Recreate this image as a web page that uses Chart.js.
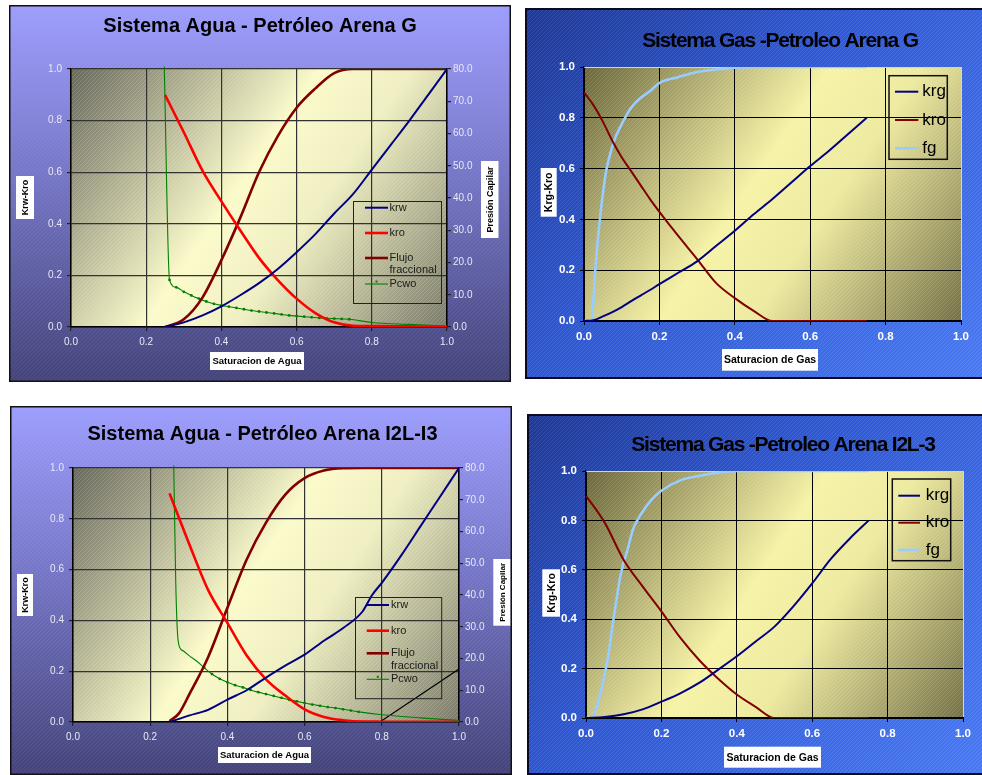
<!DOCTYPE html>
<html lang="es">
<head>
<meta charset="utf-8">
<title>Permeabilidades relativas - Arenas G e I2L-I3</title>
<script src="https://cdn.jsdelivr.net/npm/chart.js@4.4.1/dist/chart.umd.min.js"></script>
<style>
  html, body { margin: 0; padding: 0; background: #ffffff; }
  body { position: relative; width: 982px; height: 775px; overflow: hidden; }
  .panel { position: absolute; }
  .panel canvas { display: block; }
</style>
</head>
<body>
<div class="panel" style="left:9px;top:5px"><canvas id="aguaG" width="502" height="377"></canvas></div>
<div class="panel" style="left:525px;top:8px"><canvas id="gasG" width="460" height="371"></canvas></div>
<div class="panel" style="left:10px;top:406px"><canvas id="aguaI" width="502" height="369"></canvas></div>
<div class="panel" style="left:527px;top:414px"><canvas id="gasI" width="458" height="361"></canvas></div>
<script>
const FONT = "'Liberation Sans', Arial, Helvetica, sans-serif";

// Tick values and labels
const SAT_TICKS = [0, 0.2, 0.4, 0.6, 0.8, 1.0];
const SAT_LABELS = ['0.0', '0.2', '0.4', '0.6', '0.8', '1.0'];
const PC_TICKS = [0, 10, 20, 30, 40, 50, 60, 70, 80];
const PC_LABELS = ['0.0', '10.0', '20.0', '30.0', '40.0', '50.0', '60.0', '70.0', '80.0'];

// ---- Arena G, sistema agua-petróleo ----
const swG  = [0.25, 0.30, 0.35, 0.40, 0.45, 0.50, 0.55, 0.60, 0.65, 0.70, 0.75, 0.80, 0.85, 0.90, 0.95, 1.00];
const krwG = [0.000, 0.018, 0.045, 0.080, 0.123, 0.170, 0.225, 0.290, 0.360, 0.440, 0.515, 0.610, 0.705, 0.800, 0.900, 1.000];
const kroG = [0.900, 0.755, 0.605, 0.487, 0.375, 0.268, 0.182, 0.110, 0.054, 0.018, 0.005, 0.004, 0.003, 0.003, 0.002, 0.000];
const fwG  = [0.000, 0.030, 0.115, 0.259, 0.423, 0.600, 0.740, 0.850, 0.925, 0.984, 1.000, 1.000, 1.000, 1.000, 1.000, 1.000];
const pcSwG = [0.248, 0.262, 0.28, 0.30, 0.32, 0.34, 0.36, 0.38, 0.40, 0.42, 0.44, 0.46, 0.48, 0.50, 0.52, 0.54,
               0.56, 0.58, 0.60, 0.62, 0.64, 0.66, 0.68, 0.70, 0.72, 0.74, 0.80, 0.90, 1.00];
const pcG   = [80.8, 14.6, 12.3, 10.9, 9.8, 8.8, 7.9, 7.2, 6.7, 6.3, 5.9, 5.5, 5.1, 4.8, 4.5, 4.2,
               3.9, 3.6, 3.4, 3.2, 3.0, 2.8, 2.7, 2.6, 2.5, 2.4, 1.4, 0.8, 0.3];

// ---- Arena G, sistema gas-petróleo ----
const sgG   = [0, 0.025, 0.05, 0.075, 0.10, 0.125, 0.15, 0.175, 0.20, 0.25, 0.30, 0.35, 0.40, 0.45, 0.50, 0.55, 0.60, 0.65, 0.70, 0.75];
const krgG  = [0, 0.003, 0.018, 0.035, 0.055, 0.078, 0.100, 0.122, 0.145, 0.190, 0.235, 0.295, 0.355, 0.420, 0.480, 0.545, 0.610, 0.670, 0.735, 0.800];
const kroGG = [0.90, 0.85, 0.785, 0.71, 0.645, 0.59, 0.535, 0.48, 0.43, 0.335, 0.244, 0.15, 0.09, 0.04, 0, 0, 0, 0, 0, 0];
const fgSwG = [0, 0.02, 0.025, 0.03, 0.04, 0.05, 0.06, 0.07, 0.08, 0.10, 0.125, 0.15, 0.175, 0.20, 0.25, 0.30, 0.35, 0.40, 0.50, 0.60, 0.75];
const fgG   = [0, 0, 0.08, 0.20, 0.37, 0.50, 0.60, 0.66, 0.71, 0.775, 0.84, 0.878, 0.905, 0.937, 0.96, 0.98, 0.99, 0.997, 1, 1, 1];

// ---- Arena I2L-I3, sistema agua-petróleo ----
const swI  = [0.25, 0.30, 0.35, 0.40, 0.45, 0.50, 0.55, 0.60, 0.65, 0.70, 0.75, 0.775, 0.80, 0.85, 0.90, 0.95, 1.00];
const krwI = [0, 0.025, 0.048, 0.088, 0.125, 0.175, 0.222, 0.265, 0.320, 0.370, 0.435, 0.500, 0.548, 0.655, 0.770, 0.885, 1.000];
const kroI = [0.90, 0.705, 0.52, 0.39, 0.262, 0.168, 0.104, 0.05, 0.02, 0.007, 0.002, 0.002, 0.001, 0.001, 0.001, 0.001, 0];
const fwSwI = [0.25, 0.275, 0.30, 0.35, 0.40, 0.45, 0.50, 0.55, 0.60, 0.65, 0.70, 0.75, 1.00];
const fwI   = [0.003, 0.035, 0.105, 0.255, 0.45, 0.64, 0.785, 0.895, 0.96, 0.99, 0.999, 1, 1];
const pcSwI = [0.261, 0.266, 0.270, 0.274, 0.287, 0.30, 0.32, 0.34, 0.36, 0.38, 0.40, 0.42, 0.44, 0.46, 0.48, 0.50,
               0.52, 0.54, 0.56, 0.58, 0.60, 0.62, 0.64, 0.66, 0.68, 0.70, 0.72, 0.74, 0.80, 0.90, 1.00];
const pcI   = [80.8, 45, 29.5, 24.4, 22.3, 21.0, 19.2, 17.1, 15.1, 13.6, 12.5, 11.6, 10.9, 10.1, 9.4, 8.8,
               8.2, 7.6, 7.0, 6.5, 6.0, 5.5, 5.1, 4.7, 4.4, 4.0, 3.6, 3.2, 2.3, 1.3, 0.5];
const trazoSwI = [0.795, 1.0];
const trazoI   = [0, 0.209];

// ---- Arena I2L-3, sistema gas-petróleo ----
const sgI   = [0, 0.05, 0.10, 0.15, 0.20, 0.25, 0.30, 0.35, 0.40, 0.45, 0.50, 0.55, 0.60, 0.65, 0.70, 0.75];
const krgI  = [0, 0.004, 0.015, 0.035, 0.066, 0.100, 0.142, 0.195, 0.250, 0.310, 0.370, 0.452, 0.545, 0.645, 0.727, 0.800];
const kroI4 = [0.90, 0.79, 0.64, 0.533, 0.432, 0.325, 0.235, 0.16, 0.095, 0.045, 0, 0, 0, 0, 0, 0];
const fgSwI = [0, 0.015, 0.025, 0.04, 0.05, 0.06, 0.07, 0.08, 0.09, 0.10, 0.11, 0.125, 0.15, 0.175, 0.20, 0.25, 0.30, 0.35, 0.40, 0.50, 0.75];
const fgI   = [0, 0, 0.03, 0.11, 0.18, 0.26, 0.37, 0.47, 0.565, 0.63, 0.68, 0.765, 0.835, 0.885, 0.92, 0.962, 0.98, 0.993, 1, 1, 1];

const pts = (xs, ys) => xs.map((x, i) => ({ x, y: ys[i] }));

function hatchPattern(ctx, color, step) {
  const t = document.createElement('canvas');
  t.width = step; t.height = step;
  const g = t.getContext('2d');
  g.strokeStyle = color; g.lineWidth = 1;
  g.beginPath(); g.moveTo(-1, step + 1); g.lineTo(step + 1, -1); g.stroke();
  return ctx.createPattern(t, 'repeat');
}

// Panel background, plot-area fill, titles, boxed axis titles, legend and frame
const panelDecor = {
  id: 'panelDecor',
  beforeDraw(chart, _args, o) {
    const { ctx, width, height, chartArea: a } = chart;
    ctx.save();
    const bg = o.bgVertical ? ctx.createLinearGradient(0, 0, 0, height)
                            : ctx.createLinearGradient(0, 0, width, height);
    o.bg.forEach(([s, c]) => bg.addColorStop(s, c));
    ctx.fillStyle = bg; ctx.fillRect(0, 0, width, height);
    ctx.fillStyle = hatchPattern(ctx, o.hatch, 4); ctx.fillRect(0, 0, width, height);
    const pg = ctx.createLinearGradient(a.left, a.top, a.right, a.bottom);
    o.plot.forEach(([s, c]) => pg.addColorStop(s, c));
    ctx.fillStyle = pg; ctx.fillRect(a.left, a.top, a.right - a.left, a.bottom - a.top);
    ctx.fillStyle = hatchPattern(ctx, o.plotHatch, 4); ctx.fillRect(a.left, a.top, a.right - a.left, a.bottom - a.top);
    ctx.restore();
  },
  afterDraw(chart, _args, o) {
    const { ctx, width, height } = chart;
    ctx.save();
    // chart title
    const t = o.title;
    ctx.font = `bold ${t.size}px ${FONT}`;
    ctx.fillStyle = '#000'; ctx.textAlign = 'center'; ctx.textBaseline = 'alphabetic';
    ctx.letterSpacing = (t.spacing || 0) + 'px';
    ctx.fillText(t.text, t.x, t.y);
    ctx.letterSpacing = '0px';
    // axis titles on white boxes
    o.axisTitles.forEach(at => {
      const [x0, y0, x1, y1] = at.box;
      ctx.fillStyle = '#fff'; ctx.fillRect(x0, y0, x1 - x0, y1 - y0);
      ctx.save();
      ctx.translate((x0 + x1) / 2, (y0 + y1) / 2);
      if (at.vertical) ctx.rotate(-Math.PI / 2);
      ctx.font = `bold ${at.size}px ${FONT}`; ctx.fillStyle = '#000';
      ctx.textAlign = 'center'; ctx.textBaseline = 'middle';
      ctx.fillText(at.text, 0, 0.5);
      ctx.restore();
    });
    // legend
    const L = o.legend;
    ctx.strokeStyle = L.border; ctx.lineWidth = L.borderWidth;
    ctx.strokeRect(L.box[0], L.box[1], L.box[2] - L.box[0], L.box[3] - L.box[1]);
    ctx.font = `${L.size}px ${FONT}`; ctx.textAlign = 'left'; ctx.textBaseline = 'middle';
    const entries = chart.data.datasets.filter(d => !(L.skip || []).includes(d.label));
    const maxW = L.box[2] - L.textX - 1;
    entries.forEach((d, k) => {
      const y = L.rows[k];
      ctx.strokeStyle = d.borderColor; ctx.lineWidth = d.borderWidth;
      ctx.beginPath(); ctx.moveTo(L.sample[0], y); ctx.lineTo(L.sample[1], y); ctx.stroke();
      if (d.pointBackgroundColor) {
        ctx.fillStyle = d.pointBackgroundColor;
        ctx.fillRect((L.sample[0] + L.sample[1]) / 2 - 1, y - 3.5, 2, 2);
      }
      ctx.fillStyle = L.color;
      const words = d.label.split(' ');
      const lines = []; let cur = '';
      words.forEach(w => {
        const test = cur ? cur + ' ' + w : w;
        if (cur && ctx.measureText(test).width > maxW) { lines.push(cur); cur = w; } else { cur = test; }
      });
      lines.push(cur);
      lines.forEach((ln, j) => ctx.fillText(ln, L.textX, y + j * L.lineGap));
    });
    // outer frame
    const fw = o.frame.width;
    ctx.strokeStyle = o.frame.color; ctx.lineWidth = fw;
    ctx.strokeRect(fw / 2, fw / 2, width - fw, height - fw);
    ctx.restore();
  }
};
Chart.register(panelDecor);

function satAxis(position, size, tick, gridColor, tickPad) {
  return {
    type: 'linear', position, min: 0, max: 1,
    afterFit: s => { if (position === 'bottom') s.height = size; else s.width = size; },
    afterBuildTicks: s => { s.ticks = SAT_TICKS.map(v => ({ value: v })); },
    ticks: { callback: (v, i) => SAT_LABELS[i], font: tick.font, color: tick.color, padding: tickPad, maxRotation: 0, autoSkip: false },
    grid: { color: gridColor, lineWidth: tick.gridWidth, tickLength: 4, tickColor: tick.tickColor },
    border: { color: '#000', width: tick.borderWidth }
  };
}

const WATER_TICK = { font: { family: FONT, size: 10 }, color: '#e8e8f6', gridWidth: 1.2, tickColor: '#222', borderWidth: 1.5 };
const GAS_TICK = { font: { family: FONT, size: 11.5, weight: 'bold' }, color: '#ffffff', gridWidth: 1, tickColor: '#000', borderWidth: 1.2 };

function waterChart(id, s, L) {
  return new Chart(document.getElementById(id), {
    type: 'line',
    data: { datasets: [
      { label: 'krw', data: pts(s.sw, s.krw), borderColor: '#000080', borderWidth: 2, yAxisID: 'y' },
      { label: 'kro', data: pts(s.sw, s.kro), borderColor: '#ff0000', borderWidth: 2.6, yAxisID: 'y' },
      { label: 'Flujo fraccional', data: pts(s.fwSw, s.fw), borderColor: '#800000', borderWidth: 2.6, yAxisID: 'y' },
      { label: 'Pcwo', data: pts(s.pcSw, s.pc), borderColor: '#008000', borderWidth: 1.1, yAxisID: 'y1', clip: false,
        pointBackgroundColor: '#008000', pointBorderWidth: 0,
        pointRadius: c => (c.raw && c.raw.x >= s.dots[0] && c.raw.x <= s.dots[1]) ? 1.4 : 0 },
      ...(s.extra || [])
    ]},
    options: {
      responsive: false, animation: false, devicePixelRatio: 1, events: [],
      layout: { padding: { left: 0, right: 0, top: L.top, bottom: 0 } },
      elements: { point: { radius: 0, hoverRadius: 0 }, line: { cubicInterpolationMode: 'monotone' } },
      plugins: { legend: { display: false }, tooltip: { enabled: false }, panelDecor: L.decor },
      scales: {
        x: satAxis('bottom', L.xh, WATER_TICK, '#333', 5),
        y: satAxis('left', L.yw, WATER_TICK, '#333', 5),
        y1: {
          type: 'linear', position: 'right', min: 0, max: 80,
          afterFit: sc => { sc.width = L.y1w; },
          afterBuildTicks: sc => { sc.ticks = PC_TICKS.map(v => ({ value: v })); },
          ticks: { callback: (v, i) => PC_LABELS[i], font: WATER_TICK.font, color: WATER_TICK.color, padding: 2, autoSkip: false },
          grid: { drawOnChartArea: false, tickLength: 4, tickColor: '#222', lineWidth: 1.2 },
          border: { color: '#000', width: 1.5 }
        }
      }
    }
  });
}

function gasChart(id, s, L) {
  const gridCol = c => (c.tick && c.tick.value === 1) ? '#ddd9a0' : '#000';
  return new Chart(document.getElementById(id), {
    type: 'line',
    data: { datasets: [
      { label: 'krg', data: pts(s.sg, s.krg), borderColor: '#000080', borderWidth: 2 },
      { label: 'kro', data: pts(s.sg, s.kro), borderColor: '#800000', borderWidth: 2 },
      { label: 'fg', data: pts(s.fgSw, s.fg), borderColor: '#99ccff', borderWidth: 2.6 }
    ]},
    options: {
      responsive: false, animation: false, devicePixelRatio: 1, events: [],
      layout: { padding: { left: 0, right: L.right, top: L.top, bottom: 0 } },
      elements: { point: { radius: 0, hoverRadius: 0 }, line: { cubicInterpolationMode: 'monotone' } },
      plugins: { legend: { display: false }, tooltip: { enabled: false }, panelDecor: L.decor },
      scales: {
        x: satAxis('bottom', L.xh, GAS_TICK, gridCol, 5),
        y: satAxis('left', L.yw, GAS_TICK, gridCol, 5)
      }
    }
  });
}

const WATER_BG = [[0, '#9d9dfc'], [0.45, '#7676c6'], [1, '#44447a']];
const WATER_PLOT = [[0, '#68685c'], [0.45, '#fafacb'], [0.62, '#eeeec2'], [1, '#7a7a6a']];
const GAS_BG = [[0, '#1d3896'], [0.4, '#2e57d2'], [1, '#4879f6']];
const GAS_PLOT = [[0, '#6a663a'], [0.45, '#f7f3a3'], [0.62, '#eeea9c'], [1, '#747044']];

waterChart('aguaG',
  { sw: swG, krw: krwG, kro: kroG, fwSw: swG, fw: fwG, pcSw: pcSwG, pc: pcG, dots: [0.26, 0.745] },
  { top: 64, yw: 62, y1w: 64, xh: 55,
    decor: {
      bgVertical: true, bg: WATER_BG, hatch: 'rgba(255,255,255,0.06)',
      plot: WATER_PLOT, plotHatch: 'rgba(255,255,255,0.16)',
      title: { text: 'Sistema Agua - Petróleo Arena G', x: 251, y: 27, size: 20 },
      axisTitles: [
        { text: 'Krw-Kro', box: [7, 171, 25, 214], vertical: true, size: 9 },
        { text: 'Presión Capilar', box: [472, 156, 489.5, 233], vertical: true, size: 9 },
        { text: 'Saturacion de Agua', box: [201, 347, 295, 365], vertical: false, size: 9.5 }
      ],
      legend: { box: [344.5, 196.5, 432.5, 298.5], border: '#222', borderWidth: 1, size: 11, color: '#1a1a1a',
                rows: [202.7, 228, 253, 279], sample: [356, 379], textX: 380.5, lineGap: 12 },
      frame: { color: '#111', width: 1.5 }
    } });

gasChart('gasG',
  { sg: sgG, krg: krgG, kro: kroGG, fgSw: fgSwG, fg: fgG },
  { top: 59, yw: 59, right: 24, xh: 58,
    decor: {
      bgVertical: false, bg: GAS_BG, hatch: 'rgba(255,255,255,0.10)',
      plot: GAS_PLOT, plotHatch: 'rgba(255,255,255,0.14)',
      title: { text: 'Sistema Gas -Petroleo Arena G', x: 255, y: 38.5, size: 21, spacing: -1.2 },
      axisTitles: [
        { text: 'Krg-Kro', box: [15.7, 160, 31.7, 208.7], vertical: true, size: 10.5 },
        { text: 'Saturacion de Gas', box: [197, 341, 293, 362.7], vertical: false, size: 10.5 }
      ],
      legend: { box: [364, 67.7, 422.3, 151.3], border: '#111', borderWidth: 1.5, size: 17, color: '#000',
                rows: [83.7, 112, 140.3], sample: [370, 393.3], textX: 397.3, lineGap: 18 },
      frame: { color: '#0a0a20', width: 2 }
    } });

waterChart('aguaI',
  { sw: swI, krw: krwI, kro: kroI, fwSw: fwSwI, fw: fwI, pcSw: pcSwI, pc: pcI, dots: [0.33, 0.745],
    extra: [{ label: 'trazo', data: pts(trazoSwI, trazoI), borderColor: '#000', borderWidth: 1.2, yAxisID: 'y' }] },
  { top: 62, yw: 63, y1w: 53, xh: 53,
    decor: {
      bgVertical: true, bg: WATER_BG, hatch: 'rgba(255,255,255,0.06)',
      plot: WATER_PLOT, plotHatch: 'rgba(255,255,255,0.16)',
      title: { text: 'Sistema Agua - Petróleo Arena I2L-I3', x: 252.5, y: 34, size: 20 },
      axisTitles: [
        { text: 'Krw-Kro', box: [7, 168, 23, 210], vertical: true, size: 9 },
        { text: 'Presión Capilar', box: [483.3, 153, 500.7, 219.7], vertical: true, size: 8 },
        { text: 'Saturacion de Agua', box: [208, 341, 301, 357], vertical: false, size: 9.5 }
      ],
      legend: { box: [345.5, 191.5, 431.7, 292.7], border: '#222', borderWidth: 1, size: 11, color: '#1a1a1a',
                rows: [199, 224.7, 247.3, 273.3], sample: [356.7, 379], textX: 381, lineGap: 12.2, skip: ['trazo'] },
      frame: { color: '#111', width: 1.5 }
    } });

gasChart('gasI',
  { sg: sgI, krg: krgI, kro: kroI4, fgSw: fgSwI, fg: fgI },
  { top: 57, yw: 59, right: 22, xh: 57,
    decor: {
      bgVertical: false, bg: GAS_BG, hatch: 'rgba(255,255,255,0.10)',
      plot: GAS_PLOT, plotHatch: 'rgba(255,255,255,0.14)',
      title: { text: 'Sistema Gas -Petroleo Arena I2L-3', x: 256, y: 36.5, size: 21, spacing: -1.2 },
      axisTitles: [
        { text: 'Krg-Kro', box: [15.3, 155.3, 33, 202.7], vertical: true, size: 10.5 },
        { text: 'Saturacion de Gas', box: [197, 332.7, 294, 353.7], vertical: false, size: 10.5 }
      ],
      legend: { box: [365.3, 65, 423.7, 146.7], border: '#111', borderWidth: 1.5, size: 17, color: '#000',
                rows: [81.7, 108.7, 136], sample: [371.3, 393], textX: 398.7, lineGap: 18 },
      frame: { color: '#0a0a20', width: 2 }
    } });
</script>
</body>
</html>
